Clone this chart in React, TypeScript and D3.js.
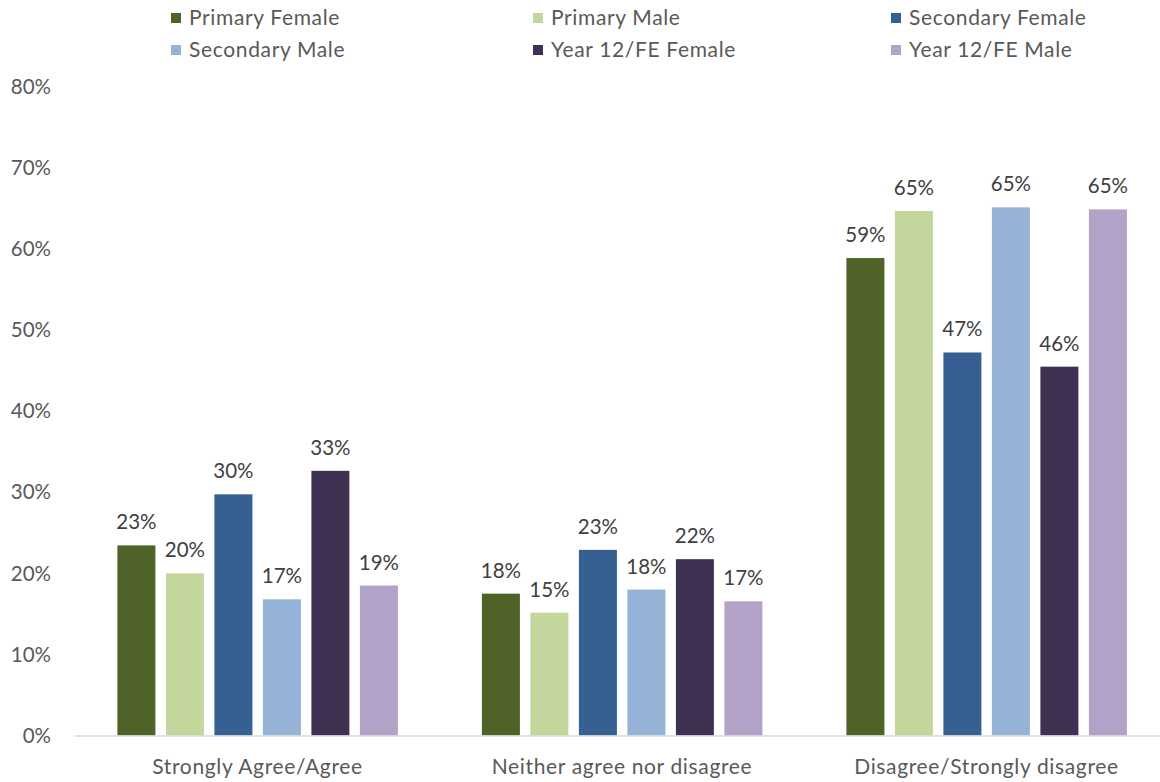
import React from "react";
import * as d3 from "d3";

const categories = ["Strongly Agree/Agree", "Neither agree nor disagree", "Disagree/Strongly disagree"];
const seriesNames = ["Primary Female", "Primary Male", "Secondary Female", "Secondary Male", "Year 12/FE Female", "Year 12/FE Male"];
const seriesColors = ["#4f6228", "#c3d69b", "#366092", "#95b3d7", "#3f3151", "#b2a2c7"];
const primaryFemale = [23.45, 17.5, 58.9];
const primaryMale = [20.0, 15.15, 64.7];
const secondaryFemale = [29.75, 22.9, 47.25];
const secondaryMale = [16.8, 18.0, 65.15];
const year12Female = [32.65, 21.75, 45.5];
const year12Male = [18.5, 16.55, 64.9];
const yTicks = [0, 10, 20, 30, 40, 50, 60, 70, 80];

const seriesValues = [primaryFemale, primaryMale, secondaryFemale, secondaryMale, year12Female, year12Male];

const W = 1160;
const H = 782;
const FONT = "Lato, 'Open Sans', sans-serif";

export default function App() {
  const x0 = d3.scaleBand<string>().domain(categories).range([75.25, 75.25 + 364.5 * 3]).padding(0);
  const x1 = d3
    .scaleBand<string>()
    .domain(seriesNames)
    .range([36.9, 36.9 + 48.5 * 6])
    .paddingInner(10.5 / 48.5)
    .paddingOuter(10.5 / 48.5 / 2);
  const y = d3.scaleLinear().domain([0, 80]).range([735.5, 87]);

  const legendCols = [171, 533, 891];
  const legendRows = [18, 50];

  return (
    <svg width={W} height={H} style={{ position: "fixed", left: 0, top: 0, background: "#fff" }} fontFamily={FONT}>
      {/* legend */}
      {seriesNames.map((name, i) => {
        const lx = legendCols[i % 3];
        const ly = legendRows[Math.floor(i / 3)];
        return (
          <g key={name}>
            <rect x={lx} y={ly - 5} width={10} height={10} fill={seriesColors[i]} />
            <text x={lx + 18} y={ly} dy="0.35em" fontSize={21} letterSpacing={0.65} fill="#595959">
              {name}
            </text>
          </g>
        );
      })}
      {/* y ticks */}
      {yTicks.map((t) => (
        <text key={t} x={51} y={y(t)} dy="0.35em" textAnchor="end" fontSize={20.5} fill="#595959">
          {t}%
        </text>
      ))}
      {/* bars */}
      {categories.map((c, ci) => (
        <g key={c} transform={`translate(${x0(c)},0)`}>
          {seriesNames.map((s, si) => {
            const v = seriesValues[si][ci];
            const bx = x1(s)!;
            return (
              <g key={s}>
                <rect x={bx} y={y(v)} width={x1.bandwidth()} height={y(0) - y(v)} fill={seriesColors[si]} />
                <text
                  x={bx + x1.bandwidth() / 2}
                  y={y(v) - 16}
                  textAnchor="middle"
                  fontSize={20.5}
                  fill="#404040"
                >
                  {Math.round(v)}%
                </text>
              </g>
            );
          })}
        </g>
      ))}
      {/* x axis */}
      <line x1={75} x2={1160} y1={736} y2={736} stroke="#d9d9d9" strokeWidth={1.5} />
      {categories.map((c) => (
        <text
          key={c}
          x={x0(c)! + x0.bandwidth() / 2}
          y={767}
          dy="0.35em"
          textAnchor="middle"
          fontSize={21}
          letterSpacing={0.65}
          fill="#595959"
        >
          {c}
        </text>
      ))}
    </svg>
  );
}
